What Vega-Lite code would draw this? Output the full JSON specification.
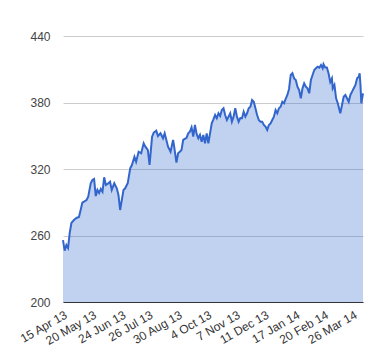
{
  "$schema": "https://vega.github.io/schema/vega-lite/v6.json",
  "width": 300,
  "height": 266,
  "autosize": "none",
  "padding": {"left": 63, "top": 36, "right": 17, "bottom": 58},
  "background": "#ffffff",
  "config": {
    "view": {"stroke": null},
    "font": "Liberation Sans",
    "axis": {"labelFont": "Liberation Sans", "labelColor": "#444444", "labelFontSize": 12, "ticks": false, "titleFontSize": 0}
  },
  "data": {
    "values": [
      {"date": "2013-04-15", "value": 255.9},
      {"date": "2013-04-17", "value": 246.3},
      {"date": "2013-04-19", "value": 251.4},
      {"date": "2013-04-21", "value": 248.7},
      {"date": "2013-04-23", "value": 262.3},
      {"date": "2013-04-25", "value": 271.3},
      {"date": "2013-04-28", "value": 274.0},
      {"date": "2013-05-01", "value": 275.8},
      {"date": "2013-05-04", "value": 276.7},
      {"date": "2013-05-06", "value": 283.0},
      {"date": "2013-05-08", "value": 289.6},
      {"date": "2013-05-10", "value": 290.5},
      {"date": "2013-05-13", "value": 292.0},
      {"date": "2013-05-15", "value": 295.0},
      {"date": "2013-05-18", "value": 307.1},
      {"date": "2013-05-20", "value": 310.1},
      {"date": "2013-05-22", "value": 311.0},
      {"date": "2013-05-24", "value": 295.6},
      {"date": "2013-05-26", "value": 301.1},
      {"date": "2013-05-28", "value": 298.4},
      {"date": "2013-05-30", "value": 302.0},
      {"date": "2013-06-01", "value": 299.5},
      {"date": "2013-06-03", "value": 312.5},
      {"date": "2013-06-05", "value": 305.6},
      {"date": "2013-06-07", "value": 306.5},
      {"date": "2013-06-10", "value": 308.5},
      {"date": "2013-06-12", "value": 301.1},
      {"date": "2013-06-15", "value": 307.1},
      {"date": "2013-06-18", "value": 302.6},
      {"date": "2013-06-20", "value": 296.5},
      {"date": "2013-06-22", "value": 283.0},
      {"date": "2013-06-26", "value": 301.1},
      {"date": "2013-06-28", "value": 302.6},
      {"date": "2013-07-01", "value": 307.1},
      {"date": "2013-07-04", "value": 320.6},
      {"date": "2013-07-06", "value": 323.6},
      {"date": "2013-07-09", "value": 331.1},
      {"date": "2013-07-11", "value": 326.6},
      {"date": "2013-07-14", "value": 335.6},
      {"date": "2013-07-17", "value": 334.2},
      {"date": "2013-07-20", "value": 343.2},
      {"date": "2013-07-22", "value": 340.1},
      {"date": "2013-07-25", "value": 337.1},
      {"date": "2013-07-27", "value": 323.6},
      {"date": "2013-07-30", "value": 349.2},
      {"date": "2013-08-01", "value": 352.8},
      {"date": "2013-08-04", "value": 354.6},
      {"date": "2013-08-06", "value": 349.8},
      {"date": "2013-08-09", "value": 352.2},
      {"date": "2013-08-12", "value": 347.7},
      {"date": "2013-08-14", "value": 352.2},
      {"date": "2013-08-16", "value": 346.2},
      {"date": "2013-08-18", "value": 340.1},
      {"date": "2013-08-21", "value": 335.6},
      {"date": "2013-08-24", "value": 346.2},
      {"date": "2013-08-25", "value": 341.7},
      {"date": "2013-08-28", "value": 325.7},
      {"date": "2013-08-30", "value": 334.2},
      {"date": "2013-09-01", "value": 335.6},
      {"date": "2013-09-03", "value": 337.1},
      {"date": "2013-09-05", "value": 346.2},
      {"date": "2013-09-09", "value": 348.2},
      {"date": "2013-09-11", "value": 352.2},
      {"date": "2013-09-13", "value": 353.7},
      {"date": "2013-09-15", "value": 357.6},
      {"date": "2013-09-17", "value": 349.2},
      {"date": "2013-09-19", "value": 359.7},
      {"date": "2013-09-21", "value": 351.6},
      {"date": "2013-09-23", "value": 347.7},
      {"date": "2013-09-25", "value": 350.7},
      {"date": "2013-09-27", "value": 344.6},
      {"date": "2013-09-29", "value": 350.7},
      {"date": "2013-10-01", "value": 343.2},
      {"date": "2013-10-03", "value": 352.2},
      {"date": "2013-10-05", "value": 343.2},
      {"date": "2013-10-07", "value": 352.2},
      {"date": "2013-10-09", "value": 361.2},
      {"date": "2013-10-11", "value": 364.8},
      {"date": "2013-10-13", "value": 368.7},
      {"date": "2013-10-15", "value": 365.8},
      {"date": "2013-10-17", "value": 370.3},
      {"date": "2013-10-19", "value": 367.8},
      {"date": "2013-10-21", "value": 373.2},
      {"date": "2013-10-23", "value": 374.8},
      {"date": "2013-10-25", "value": 368.7},
      {"date": "2013-10-27", "value": 364.2},
      {"date": "2013-10-29", "value": 367.2},
      {"date": "2013-10-31", "value": 370.3},
      {"date": "2013-11-02", "value": 362.7},
      {"date": "2013-11-04", "value": 367.2},
      {"date": "2013-11-06", "value": 374.8},
      {"date": "2013-11-08", "value": 367.2},
      {"date": "2013-11-10", "value": 362.7},
      {"date": "2013-11-12", "value": 366.0},
      {"date": "2013-11-14", "value": 365.8},
      {"date": "2013-11-16", "value": 371.7},
      {"date": "2013-11-18", "value": 367.2},
      {"date": "2013-11-20", "value": 370.3},
      {"date": "2013-11-22", "value": 374.8},
      {"date": "2013-11-24", "value": 376.2},
      {"date": "2013-11-26", "value": 382.3},
      {"date": "2013-11-28", "value": 380.7},
      {"date": "2013-11-30", "value": 374.8},
      {"date": "2013-12-02", "value": 368.7},
      {"date": "2013-12-04", "value": 364.2},
      {"date": "2013-12-06", "value": 362.7},
      {"date": "2013-12-08", "value": 362.7},
      {"date": "2013-12-10", "value": 359.7},
      {"date": "2013-12-12", "value": 358.2},
      {"date": "2013-12-14", "value": 355.2},
      {"date": "2013-12-16", "value": 359.7},
      {"date": "2013-12-18", "value": 361.2},
      {"date": "2013-12-20", "value": 364.2},
      {"date": "2013-12-22", "value": 367.2},
      {"date": "2013-12-24", "value": 373.2},
      {"date": "2013-12-26", "value": 370.3},
      {"date": "2013-12-28", "value": 374.8},
      {"date": "2013-12-30", "value": 376.2},
      {"date": "2014-01-01", "value": 380.7},
      {"date": "2014-01-03", "value": 379.3},
      {"date": "2014-01-05", "value": 383.2},
      {"date": "2014-01-07", "value": 386.8},
      {"date": "2014-01-09", "value": 392.2},
      {"date": "2014-01-11", "value": 404.8},
      {"date": "2014-01-13", "value": 406.4},
      {"date": "2014-01-15", "value": 401.8},
      {"date": "2014-01-17", "value": 400.3},
      {"date": "2014-01-19", "value": 394.3},
      {"date": "2014-01-21", "value": 391.3},
      {"date": "2014-01-23", "value": 383.8},
      {"date": "2014-01-25", "value": 392.8},
      {"date": "2014-01-27", "value": 397.3},
      {"date": "2014-01-29", "value": 394.3},
      {"date": "2014-01-31", "value": 392.8},
      {"date": "2014-02-02", "value": 388.3},
      {"date": "2014-02-04", "value": 400.3},
      {"date": "2014-02-06", "value": 404.8},
      {"date": "2014-02-08", "value": 409.3},
      {"date": "2014-02-10", "value": 410.9},
      {"date": "2014-02-12", "value": 412.3},
      {"date": "2014-02-14", "value": 411.4},
      {"date": "2014-02-16", "value": 413.8},
      {"date": "2014-02-18", "value": 410.9},
      {"date": "2014-02-19", "value": 414.5},
      {"date": "2014-02-21", "value": 411.6},
      {"date": "2014-02-23", "value": 411.6},
      {"date": "2014-02-25", "value": 406.4},
      {"date": "2014-02-27", "value": 398.5},
      {"date": "2014-03-01", "value": 401.8},
      {"date": "2014-03-02", "value": 392.8},
      {"date": "2014-03-04", "value": 395.8},
      {"date": "2014-03-06", "value": 383.8},
      {"date": "2014-03-08", "value": 379.3},
      {"date": "2014-03-11", "value": 370.3},
      {"date": "2014-03-13", "value": 377.8},
      {"date": "2014-03-15", "value": 385.2},
      {"date": "2014-03-17", "value": 386.8},
      {"date": "2014-03-19", "value": 383.8},
      {"date": "2014-03-21", "value": 380.7},
      {"date": "2014-03-23", "value": 386.8},
      {"date": "2014-03-25", "value": 389.8},
      {"date": "2014-03-27", "value": 392.8},
      {"date": "2014-03-29", "value": 395.8},
      {"date": "2014-03-31", "value": 401.8},
      {"date": "2014-04-02", "value": 403.3},
      {"date": "2014-04-03", "value": 406.4},
      {"date": "2014-04-04", "value": 395.8},
      {"date": "2014-04-05", "value": 379.3},
      {"date": "2014-04-07", "value": 388.3}
    ]
  },
  "encoding": {
    "x": {
      "field": "date",
      "type": "temporal",
      "title": null,
      "scale": {"type": "utc"},
      "axis": {
        "values": [
          {"year": 2013, "month": 4, "date": 15, "utc": true},
          {"year": 2013, "month": 5, "date": 20, "utc": true},
          {"year": 2013, "month": 6, "date": 24, "utc": true},
          {"year": 2013, "month": 7, "date": 26, "utc": true},
          {"year": 2013, "month": 8, "date": 30, "utc": true},
          {"year": 2013, "month": 10, "date": 4, "utc": true},
          {"year": 2013, "month": 11, "date": 7, "utc": true},
          {"year": 2013, "month": 12, "date": 11, "utc": true},
          {"year": 2014, "month": 1, "date": 17, "utc": true},
          {"year": 2014, "month": 2, "date": 20, "utc": true},
          {"year": 2014, "month": 3, "date": 26, "utc": true}
        ],
        "labelExpr": "utcFormat(datum.value, '%-d %b %y')",
        "labelAngle": -30,
        "labelAlign": "right",
        "labelBaseline": "top",
        "labelPadding": 7,
        "labelColor": "#333333",
        "labelOverlap": false,
        "labelBound": false,
        "labelFlush": false,
        "grid": false,
        "domain": true,
        "domainColor": "#333333",
        "domainWidth": 1
      }
    },
    "y": {
      "field": "value",
      "type": "quantitative",
      "title": null,
      "scale": {"domain": [200, 440], "zero": false, "nice": false},
      "axis": {
        "values": [200, 260, 320, 380, 440],
        "domain": false,
        "grid": true,
        "gridColor": "#cccccc",
        "gridWidth": 1,
        "labelPadding": 13
      }
    }
  },
  "layer": [
    {"mark": {"type": "area", "color": "#3366cc", "opacity": 0.3}, "encoding": {"y2": {"datum": 200}}},
    {"mark": {"type": "line", "color": "#3366cc", "strokeWidth": 2}}
  ]
}
